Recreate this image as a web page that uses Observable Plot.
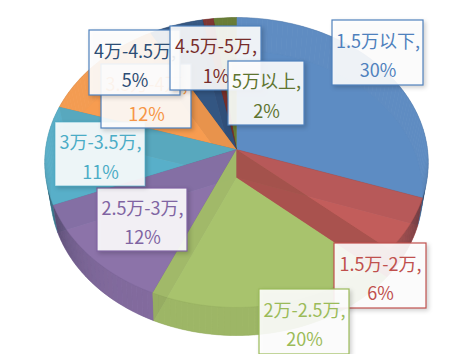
<!DOCTYPE html>
<html><head><meta charset="utf-8">
<script src="https://cdn.jsdelivr.net/npm/d3@7"></script>
<script src="https://cdn.jsdelivr.net/npm/@observablehq/plot@0.6"></script>
<style>html,body{margin:0;padding:0;background:#fff}svg{display:block}</style>
</head><body><div id="c"></div>
<script>
const categories = ["1.5万以下","1.5万-2万","2万-2.5万","2.5万-3万","3万-3.5万","3.5万-4万","4万-4.5万","4.5万-5万","5万以上"];
const shares = [30.3,6.1,20.2,12.3,11.0,12.0,5.0,1.0,2.1];
const sliceColors = ["#5a8ac2","#c05a58","#a6c26a","#8a70a8","#55aec8","#f69a4c","#2f5280","#7c2e2c","#64792f"];
const textColors = ["#4f81bd","#c0504d","#9bbb59","#8064a2","#4bacc6","#f79646","#2c4d75","#772c2a","#5f7530"];
const borderColors = ["#4f81bd","#c0504d","#9bbb59","#8064a2","#4bacc6","#4f81bd","#4f81bd","#4f81bd","#4f81bd"];
borderColors[5] = "#4f81bd";
const drawOrder = [0,8,7,6,5,4,3,2,1];
// label boxes in page pixels: left, right, top, bottom
const labelBoxes = [[332,423,20,85],[334,426,243,308],[259,349,289,354],[97,187,188,251],[55,145,122,186],[101,191,64,128],[89,180,30,95],[170,261,26,90],[228,304,61,125]];

const W=473,H=354,cx=236,cy=149,R=191,Hy=143.8,depth=28;
const face=[{R:191,H:143.8,p:.0897,dy:0},{R:185,H:140.8,p:.109,dy:depth}];
const mx=px=>(px-cx)/R, my=py=>(py-cy)/Hy;
function rim(a,l){const f=face[l],u=Math.sin(a),v=-Math.cos(a),k=1/(1-f.p*v);
  return {x:f.R*u*k/R,y:(f.H*v*k+f.dy)/Hy};}
function apex(l){return {x:0,y:face[l].dy/Hy};}
let cum=0;const tot=d3.sum(shares);
const slices=shares.map((s,i)=>{const a0=cum/tot*2*Math.PI;cum+=s;return {i,a0,a1:cum/tot*2*Math.PI};});
function arc(s,l){const n=Math.max(3,Math.ceil((s.a1-s.a0)/0.02)),out=[];
  for(let j=0;j<=n;j++){out.push(rim(s.a0+(s.a1-s.a0)*j/n,l));}return out;}
const tag=(pts,part,o)=>pts.map(p=>({...p,part,o}));
const marks=[];
const lineOpt=(fill,extra)=>({x:"x",y:"y",z:"part",fill,stroke:"none",curve:"linear",...extra});
for(const idx of drawOrder){
  const s=slices[idx],col=sliceColors[idx],dark=d3.color(col).darker(.45).formatHex();
  marks.push(Plot.line(tag([apex(1),...arc(s,1)],"bottom"),lineOpt(col,{fillOpacity:.9})));
  const wallA=[apex(0),rim(s.a0,0),rim(s.a0,1),apex(1)],wallB=[apex(0),rim(s.a1,0),rim(s.a1,1),apex(1)];
  marks.push(Plot.line([...tag(wallA,"a"),...tag(wallB,"b")],lineOpt(dark,{fillOpacity:.8})));
  const n=Math.max(3,Math.ceil((s.a1-s.a0)/0.03)),q=[],qd=[];
  for(let j=0;j<n;j++){const a=s.a0+(s.a1-s.a0)*j/n,b=s.a0+(s.a1-s.a0)*(j+1)/n,m=(a+b)/2;
    const front=Math.max(0,Math.min(1,-Math.cos(m)/.25)),e=Math.abs(Math.sin(m)),pts=[rim(a,0),rim(b,0),rim(b,1),rim(a,1)];
    q.push(...tag(pts,"w"+j));qd.push(...tag(pts,"d"+j,Math.pow(e,7)*.62*front));}
  const wc=d3.color(col).darker(.25).formatHex();
  marks.push(Plot.line(q,lineOpt(wc,{fillOpacity:.8,stroke:wc,strokeWidth:.3,strokeOpacity:.6})));
  marks.push(Plot.line(qd,lineOpt("#1a2030",{fillOpacity:"o"})));
  marks.push(Plot.line(tag(arc(s,1),"edge"),{x:"x",y:"y",z:"part",stroke:dark,strokeWidth:.7,strokeOpacity:.45,curve:"linear"}));
  marks.push(Plot.line(tag([apex(0),...arc(s,0)],"top"),lineOpt(col,{fillOpacity:.8,stroke:dark,strokeWidth:.6,strokeOpacity:.55})));
}
categories.forEach((c,i)=>{
  const [l,r,t,b]=labelBoxes[i];
  const d={x1:mx(l),x2:mx(r),y1:my(t),y2:my(b),xm:mx((l+r)/2),ym:my((t+b)/2),label:`${c},\n${Math.round(shares[i])}%`};
  marks.push(Plot.rect([d],{x1:"x1",x2:"x2",y1:"y1",y2:"y2",fill:"#fff",fillOpacity:.9,stroke:borderColors[i],strokeWidth:1.2,strokeOpacity:i==4?.55:1,imageFilter:"drop-shadow(2px 2px 2px rgba(0,0,0,.2))"}));
  marks.push(Plot.text([d],{x:"xm",y:"ym",text:"label",fill:textColors[i],fontSize:18,lineHeight:1.64,fontFamily:"'Noto Sans CJK SC','Noto Sans',sans-serif"}));
});
const chart=Plot.plot({width:W,height:H,margin:0,
  x:{domain:[mx(0),mx(W)],range:[0,W],axis:null},
  y:{domain:[my(0),my(H)],range:[0,H],axis:null},
  opacity:{type:"identity"},
  style:{background:"#fff"},
  marks});
document.getElementById("c").append(chart);
</script></body></html>
